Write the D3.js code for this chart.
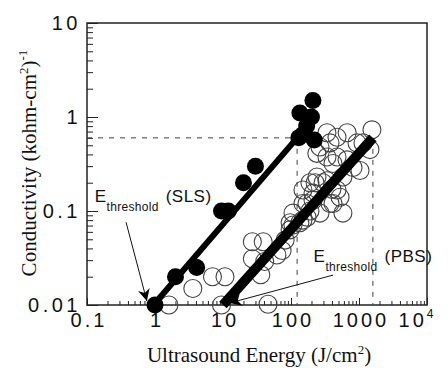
<!DOCTYPE html>
<html>
<head>
<meta charset="utf-8">
<script src="https://cdn.jsdelivr.net/npm/d3@7"></script>
<style>
  body { margin: 0; background: #fff; }
  svg text { fill: #111; }
</style>
</head>
<body>
<div id="chart"></div>
<script>
// Data
var slsEnergy = [1, 2, 4.1, 9.5, 12, 20, 30, 130, 150, 220, 135, 200, 210, 170];
var slsCond   = [0.01, 0.02, 0.025, 0.1, 0.1, 0.2, 0.3, 0.6, 0.65, 0.57, 1.1, 1.0, 1.5, 0.8];

var pbsEnergy = [1.6, 3.6, 7, 10.7, 9.5, 46, 27, 36, 41, 27, 39, 74, 82, 62, 97, 107, 135, 172,
                 150, 211, 226, 241, 338, 400, 415, 526, 580, 1550, 670, 475, 375, 267, 240, 338,
                 475, 667, 415, 817, 1035, 1145, 1450, 580, 190, 150, 211, 475, 375, 172, 107,
                 190, 267, 150, 97, 338, 935, 296];
var pbsCond   = [0.01, 0.015, 0.02, 0.02, 0.01, 0.0102, 0.031, 0.021, 0.029, 0.047, 0.047, 0.038,
                 0.049, 0.034, 0.063, 0.071, 0.075, 0.086, 0.12, 0.13, 0.2, 0.23, 0.21, 0.17, 0.12,
                 0.14, 0.095, 0.73, 0.68, 0.61, 0.53, 0.48, 0.41, 0.375, 0.375, 0.35, 0.32, 0.29,
                 0.27, 0.53, 0.45, 0.23, 0.2, 0.167, 0.155, 0.167, 0.12, 0.12, 0.095, 0.1, 0.095,
                 0.08, 0.075, 0.68, 0.53, 0.2];

// fitted lines (energy, conductivity)
var slsFitE = [0.95, 123], slsFitC = [0.01, 0.6];
var pbsFitE = [10, 1600],  pbsFitC = [0.01, 0.6];

// threshold guides
var guideLevel = 0.6;
var guideEnergy = [123, 1600];

// threshold arrows: [from, to]
var slsArrowE = [0.375, 0.76], slsArrowC = [0.076, 0.011];
var pbsArrowE = [415, 12.5],   pbsArrowC = [0.0208, 0.0105];

var xTicks = [0.1, 1, 10, 100, 1000, 10000];
var xTickLabels = ["0.1", "1", "10", "100", "1000", "10"];
var yTicks = [0.01, 0.1, 1, 10];
var yTickLabels = ["0.01", "0.1", "1", "10"];

var svgWidth = 448, svgHeight = 368;
var margin = { top: 23, right: 21, bottom: 63, left: 87 };
var width = svgWidth - margin.left - margin.right;
var height = svgHeight - margin.top - margin.bottom;

var svg = d3.select("#chart").append("svg")
    .attr("width", svgWidth)
    .attr("height", svgHeight);

var g = svg.append("g")
    .attr("transform", `translate(${margin.left}, ${margin.top})`);

var x = d3.scaleLog().domain([0.1, 1e4]).range([0, width]);
var y = d3.scaleLog().domain([0.01, 10]).range([height, 0]);

// minor ticks
var minorX = x.ticks().filter(v => xTicks.indexOf(v) < 0);
var minorY = y.ticks().filter(v => yTicks.indexOf(v) < 0);

g.append("g")
    .attr("transform", `translate(0, ${height})`)
    .call(d3.axisBottom(x).tickValues(minorX).tickSize(-4).tickFormat(""))
    .call(a => a.select(".domain").remove());
g.append("g")
    .attr("transform", `translate(0, ${height})`)
    .call(d3.axisBottom(x).tickValues(xTicks).tickSize(-7).tickFormat(""))
    .call(a => a.select(".domain").remove());
g.append("g")
    .call(d3.axisLeft(y).tickValues(minorY).tickSize(-6).tickFormat(""))
    .call(a => a.select(".domain").remove());
g.append("g")
    .call(d3.axisLeft(y).tickValues(yTicks).tickSize(-11).tickFormat(""))
    .call(a => a.select(".domain").remove());
g.selectAll(".tick line").attr("stroke", "#222").attr("stroke-width", 1);

// frame
g.append("rect")
    .attr("width", width)
    .attr("height", height)
    .attr("fill", "none")
    .attr("stroke", "#222")
    .attr("stroke-width", 1.5);

// tick labels
var tickFont = "'Liberation Sans', Arial, sans-serif";
var xl = g.append("g").selectAll("text")
    .data(xTicks)
    .enter()
    .append("text")
    .attr("x", (d, i) => x(d) + 2 - (i === xTicks.length - 1 ? 13 : 0))
    .attr("y", height + 22)
    .attr("text-anchor", "middle")
    .attr("font-family", tickFont)
    .attr("font-size", 20)
    .attr("letter-spacing", 3)
    .text((d, i) => xTickLabels[i]);
xl.filter((d, i) => i === xTicks.length - 1)
    .append("tspan")
    .attr("dy", -9)
    .attr("font-size", 12)
    .attr("letter-spacing", 0)
    .text("4");

g.append("g").selectAll("text")
    .data(yTicks)
    .enter()
    .append("text")
    .attr("x", -6)
    .attr("y", d => y(d) + 7)
    .attr("text-anchor", "end")
    .attr("font-family", tickFont)
    .attr("font-size", 20)
    .attr("letter-spacing", 3.5)
    .text((d, i) => yTickLabels[i]);

// dashed guides
var dash = "5,6";
g.append("line")
    .attr("x1", x(0.1)).attr("x2", x(guideEnergy[0]))
    .attr("y1", y(guideLevel)).attr("y2", y(guideLevel))
    .attr("stroke", "#444").attr("stroke-dasharray", dash);
g.selectAll(".vguide")
    .data(guideEnergy)
    .enter()
    .append("line")
    .attr("x1", d => x(d)).attr("x2", d => x(d))
    .attr("y1", y(guideLevel)).attr("y2", y(0.01))
    .attr("stroke", "#444").attr("stroke-dasharray", dash);

// open circles (PBS)
g.append("g").selectAll("circle")
    .data(pbsEnergy)
    .enter()
    .append("circle")
    .attr("cx", d => x(d))
    .attr("cy", (d, i) => y(pbsCond[i]))
    .attr("r", 9)
    .attr("fill", "none")
    .attr("stroke", "#444")
    .attr("stroke-width", 1.1);

// fit lines
g.append("line")
    .attr("x1", x(slsFitE[0])).attr("y1", y(slsFitC[0]))
    .attr("x2", x(slsFitE[1])).attr("y2", y(slsFitC[1]))
    .attr("stroke", "#000").attr("stroke-width", 6);
g.append("line")
    .attr("x1", x(pbsFitE[0])).attr("y1", y(pbsFitC[0]))
    .attr("x2", x(pbsFitE[1])).attr("y2", y(pbsFitC[1]))
    .attr("stroke", "#000").attr("stroke-width", 10);

// filled dots (SLS)
g.append("g").selectAll("circle")
    .data(slsEnergy)
    .enter()
    .append("circle")
    .attr("cx", d => x(d))
    .attr("cy", (d, i) => y(slsCond[i]))
    .attr("r", 8.5)
    .attr("fill", "#000");

// arrows
svg.append("defs").append("marker")
    .attr("id", "head")
    .attr("viewBox", "0 0 10 10")
    .attr("refX", 10).attr("refY", 5)
    .attr("markerWidth", 16).attr("markerHeight", 12)
    .attr("markerUnits", "userSpaceOnUse")
    .attr("orient", "auto")
    .append("path")
    .attr("d", "M0,0 L10,5 L0,10 L3,5 Z")
    .attr("fill", "#000");

[[slsArrowE, slsArrowC], [pbsArrowE, pbsArrowC]].forEach(a => {
    g.append("line")
        .attr("x1", x(a[0][0])).attr("y1", y(a[1][0]))
        .attr("x2", x(a[0][1])).attr("y2", y(a[1][1]))
        .attr("stroke", "#111").attr("stroke-width", 1)
        .attr("marker-end", "url(#head)");
});

// threshold labels
function thresholdLabel(px, py, name) {
    var t = g.append("text")
        .attr("x", px).attr("y", py)
        .attr("font-family", tickFont)
        .attr("font-size", 17)
        .attr("letter-spacing", 0.5);
    t.append("tspan").text("E");
    t.append("tspan").attr("dy", 9).attr("font-size", 12).attr("letter-spacing", 0.3).text("threshold");
    t.append("tspan").attr("dy", -9).attr("dx", 7).text(name);
}
thresholdLabel(x(0.13), y(0.1) - 9, "(SLS)");
thresholdLabel(x(215), y(0.0286), "(PBS)");

// axis titles
var serif = "'Liberation Serif', 'Times New Roman', serif";
var xt = svg.append("text")
    .attr("x", 259)
    .attr("y", 362)
    .attr("text-anchor", "middle")
    .attr("font-family", serif)
    .attr("font-size", 21);
xt.append("tspan").text("Ultrasound Energy (J/cm");
xt.append("tspan").attr("dy", -8).attr("font-size", 13).text("2");
xt.append("tspan").attr("dy", 8).text(")");

var yt = svg.append("text")
    .attr("transform", "translate(36, 163) rotate(-90)")
    .attr("text-anchor", "middle")
    .attr("font-family", serif)
    .attr("font-size", 21);
yt.append("tspan").text("Conductivity (kohm-cm");
yt.append("tspan").attr("dy", -8).attr("font-size", 13).text("2");
yt.append("tspan").attr("dy", 8).text(")");
yt.append("tspan").attr("dy", -9).attr("font-size", 13).text("-1");
</script>
</body>
</html>
